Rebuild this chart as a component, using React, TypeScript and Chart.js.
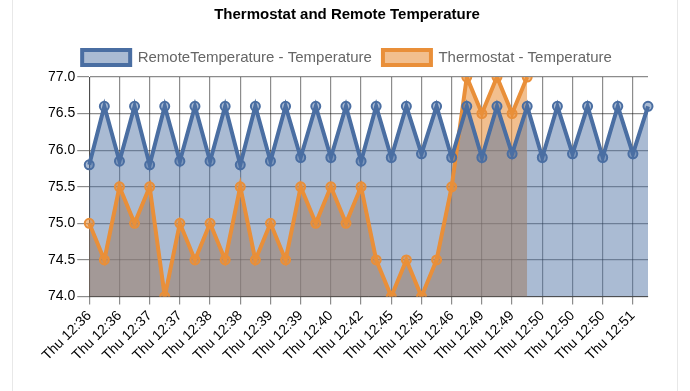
import React, { useEffect, useRef } from "react";
import { Chart, registerables } from "chart.js";

Chart.register(...registerables);

const labels: string[] = [
  "Thu 12:36", "Thu 12:36", "Thu 12:36", "Thu 12:36", "Thu 12:37", "Thu 12:37",
  "Thu 12:37", "Thu 12:38", "Thu 12:38", "Thu 12:38", "Thu 12:38", "Thu 12:39",
  "Thu 12:39", "Thu 12:39", "Thu 12:39", "Thu 12:40", "Thu 12:40", "Thu 12:41",
  "Thu 12:42", "Thu 12:44", "Thu 12:45", "Thu 12:45", "Thu 12:45", "Thu 12:46",
  "Thu 12:46", "Thu 12:48", "Thu 12:49", "Thu 12:49", "Thu 12:49", "Thu 12:49",
  "Thu 12:50", "Thu 12:50", "Thu 12:50", "Thu 12:50", "Thu 12:50", "Thu 12:51",
  "Thu 12:51", "Thu 12:51",
];

const remoteTemperature: number[] = [
  75.8, 76.6, 75.85, 76.6, 75.8, 76.6, 75.85, 76.6, 75.85, 76.6,
  75.8, 76.6, 75.85, 76.6, 75.9, 76.6, 75.9, 76.6, 75.85, 76.6,
  75.9, 76.6, 75.95, 76.6, 75.9, 76.6, 75.9, 76.6, 75.95, 76.6,
  75.9, 76.6, 75.95, 76.6, 75.9, 76.6, 75.95, 76.6,
];

const thermostatTemperature: number[] = [
  75.0, 74.5, 75.5, 75.0, 75.5, 74.0, 75.0, 74.5, 75.0, 74.5,
  75.5, 74.5, 75.0, 74.5, 75.5, 75.0, 75.5, 75.0, 75.5, 74.5,
  74.0, 74.5, 74.0, 74.5, 75.5, 77.0, 76.5, 77.0, 76.5, 77.0,
];

const BLUE = "rgb(74,110,162)";
const BLUE_FILL = "rgba(74,110,162,0.47)";
const ORANGE = "rgb(233,143,57)";
const ORANGE_FILL = "rgba(233,143,57,0.57)";
const FONT = "'Liberation Sans', Arial, sans-serif";

const legendMargin = {
  id: "legendMargin",
  beforeInit(chart: any) {
    const legend = chart.legend;
    if (!legend) return;
    const origFit = legend.fit;
    legend.fit = function fit() {
      origFit.bind(legend)();
      this.height += 2;
    };
  },
};

export default function App() {
  const ref = useRef<HTMLCanvasElement | null>(null);

  useEffect(() => {
    if (!ref.current) return;
    const chart = new Chart(ref.current, {
      type: "line",
      data: {
        labels,
        datasets: [
          {
            label: "RemoteTemperature - Temperature",
            data: remoteTemperature,
            borderColor: BLUE,
            backgroundColor: BLUE_FILL,
            borderWidth: 4,
            pointRadius: 4.5,
            pointBorderWidth: 2,
            pointBackgroundColor: BLUE_FILL,
            pointBorderColor: BLUE,
            fill: "start",
            tension: 0,
          },
          {
            label: "Thermostat - Temperature",
            data: thermostatTemperature,
            borderColor: ORANGE,
            backgroundColor: ORANGE_FILL,
            borderWidth: 4,
            pointRadius: 4.5,
            pointBorderWidth: 2,
            pointBackgroundColor: ORANGE_FILL,
            pointBorderColor: ORANGE,
            fill: "start",
            tension: 0,
          },
        ],
      },
      options: {
        responsive: false,
        animation: false,
        layout: { padding: { left: 46, right: 42, top: 0, bottom: 24 } },
        plugins: {
          filler: { drawTime: "beforeDatasetsDraw" } as any,
          tooltip: { enabled: false },
          title: {
            display: true,
            text: "Thermostat and Remote Temperature",
            color: "#000",
            font: { family: FONT, size: 15, weight: "bold" },
            padding: { top: 6, bottom: 15 },
          },
          legend: {
            display: true,
            labels: {
              color: "#666",
              boxWidth: 48,
              boxHeight: 15,
              padding: 11,
              font: { family: FONT, size: 15 },
            },
          },
        },
        scales: {
          x: {
            type: "category",
            offset: false,
            grid: { color: "rgba(0,0,0,0.45)", lineWidth: 1.2, tickLength: 8 },
            border: { color: "rgba(0,0,0,0.45)" },
            ticks: {
              autoSkip: false,
              maxRotation: 45,
              minRotation: 45,
              color: "#000",
              font: { family: FONT, size: 14 },
              callback: (_v: any, i: number) => (i % 2 === 0 ? labels[i] : null),
            },
          },
          y: {
            min: 74,
            max: 77,
            grid: { color: "rgba(0,0,0,0.45)", lineWidth: 1.2, tickLength: 12 },
            border: { color: "rgba(0,0,0,0.45)" },
            ticks: {
              stepSize: 0.5,
              padding: 2,
              color: "#000",
              font: { family: FONT, size: 14 },
              callback: (v: any) => Number(v).toFixed(1),
            },
          },
        },
      },
      plugins: [legendMargin],
    });
    return () => chart.destroy();
  }, []);

  return (
    <div style={{ position: "fixed", left: 0, top: 0, width: 690, height: 391, background: "#fff" }}>
      <div style={{ position: "absolute", left: 12, top: 0, width: 1, height: 391, background: "#e8e8e8" }} />
      <div style={{ position: "absolute", left: 677, top: 0, width: 1, height: 391, background: "#e8e8e8" }} />
      <canvas ref={ref} width={690} height={391} style={{ position: "absolute", left: 0, top: 0 }} />
    </div>
  );
}
